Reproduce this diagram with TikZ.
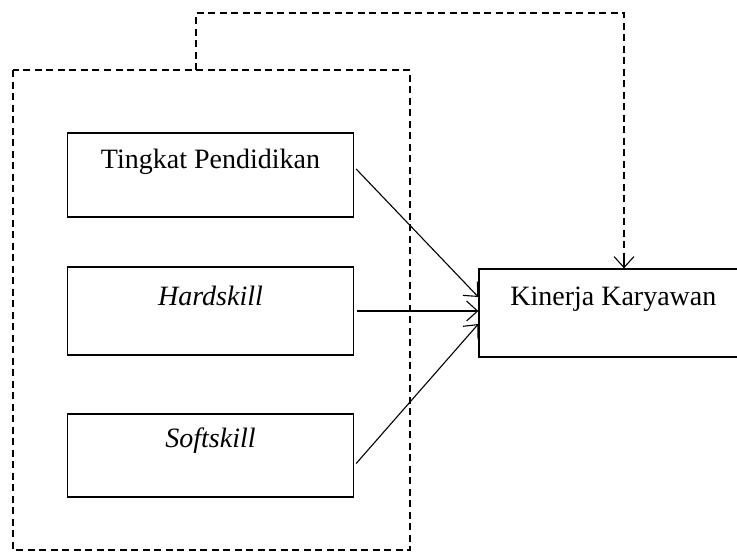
\documentclass[tikz,border=0pt]{standalone}
\usepackage{fontspec}
\setmainfont{Liberation Serif}
\usetikzlibrary{arrows.meta,calc}
\begin{document}
\begin{tikzpicture}[x=1pt,y=-1pt,
  box/.style={draw,line width=1.3pt,rectangle,inner sep=0pt},
  lbl/.style={font=\fontsize{28}{32}\selectfont,inner sep=0pt},
  dsh/.style={line width=1.3pt,dash pattern=on 7pt off 4.5pt},
  tip/.style={-{Straight Barb[length=11pt,width=20pt,line width=1.1pt]}},
  arr/.style={line width=1.1pt,tip}]
\useasboundingbox (0,0) rectangle (737,552);
% dashed frame
\draw[dsh] (13,70) rectangle (410,550);
\coordinate (f1) at (196,70);
\coordinate (f2) at (196,13);
\coordinate (f3) at (624,13);
% boxes
\node[box,minimum width=286pt,minimum height=84pt] (tp) at (210.5,175) {};
\node[box,minimum width=286pt,minimum height=88pt] (hs) at (210.5,311) {};
\node[box,minimum width=286pt,minimum height=83pt] (ss) at (210.5,455.5) {};
\node[box,minimum width=265pt,minimum height=88pt] (kk) at (611.5,313) {};
% texts
\node[lbl] (tpt) at ($(tp.north)+(0,29)$) {Tingkat Pendidikan};
\node[lbl] (hst) at ($(hs.north)+(0,30)$) {\itshape Hardskill};
\node[lbl] (sst) at ($(ss.north)+(0,27)$) {\itshape Softskill};
\node[lbl] (kkt) at ($(kk.north west)+(135,31)$) {Kinerja Karyawan};
% arrows
\draw[arr] ($(tp.east)+(2,-6)$) -- ($(kk.west)+(0,-16)$);
\draw[arr] ($(hs.east)+(3,0)$) -- (kk.west |- hs.east);
\draw[arr] ($(ss.east)+(2,8)$) -- ($(kk.west)+(0,11)$);
\draw[dsh] (f1) -- (f2) -- (f3) -- ($(f3 |- kk.north)+(0,-12)$);
\draw[arr] ($(f3 |- kk.north)+(0,-12)$) -- (f3 |- kk.north);
\end{tikzpicture}
\end{document}
